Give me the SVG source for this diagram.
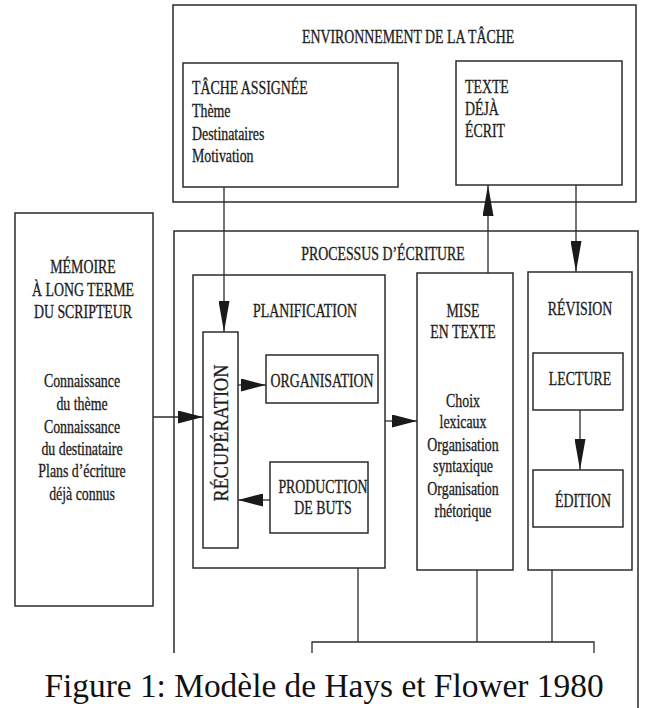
<svg xmlns="http://www.w3.org/2000/svg" width="646" height="708" viewBox="0 0 646 708">
<style>
.box{fill:none;stroke:#2b2b2b;stroke-width:1.5}
.ln{fill:none;stroke:#2b2b2b;stroke-width:1.3}
.t{font-family:"Liberation Serif","Times New Roman",serif;font-size:18px;fill:#1c1c1c;stroke:#1c1c1c;stroke-width:0.3}
.m{text-anchor:middle}
.cap{font-family:"Liberation Serif","Times New Roman",serif;font-size:33.4px;fill:#111;text-anchor:middle}
</style>
<defs>
<marker id="ah" viewBox="0 0 25 13" markerWidth="25" markerHeight="13" refX="25" refY="6.5" orient="auto" markerUnits="userSpaceOnUse">
<path d="M0,0 L25,6.5 L0,13 Z" fill="#1a1a1a"/>
</marker>
<marker id="av" viewBox="0 0 31 11" markerWidth="31" markerHeight="11" refX="31" refY="5.5" orient="auto" markerUnits="userSpaceOnUse">
<path d="M0,0 L31,5.5 L0,11 Z" fill="#1a1a1a"/>
</marker>
</defs>
<rect width="646" height="708" fill="#fff"/>

<g id="environnement">
<rect class="box" x="173" y="5" width="463" height="197"/>
<text class="t m" transform="translate(408 43) scale(0.77 1)">ENVIRONNEMENT DE LA TÂCHE</text>
</g>
<g id="tache-assignee">
<rect class="box" x="183" y="63" width="215" height="124"/>
<text class="t" transform="translate(192 94) scale(0.77 1)">TÂCHE ASSIGNÉE</text>
<text class="t" transform="translate(192 117) scale(0.77 1)">Thème</text>
<text class="t" transform="translate(192 140) scale(0.77 1)">Destinataires</text>
<text class="t" transform="translate(192 162) scale(0.77 1)">Motivation</text>
</g>
<g id="texte-deja-ecrit">
<rect class="box" x="456" y="61" width="166" height="124"/>
<text class="t" transform="translate(465 93) scale(0.77 1)">TEXTE</text>
<text class="t" transform="translate(465 115) scale(0.77 1)">DÉJÀ</text>
<text class="t" transform="translate(465 137) scale(0.77 1)">ÉCRIT</text>
</g>
<g id="memoire">
<rect class="box" x="15" y="213" width="138" height="393"/>
<text class="t m" transform="translate(83 273) scale(0.77 1)">MÉMOIRE</text>
<text class="t m" transform="translate(83 296) scale(0.77 1)">À LONG TERME</text>
<text class="t m" transform="translate(83 318) scale(0.77 1)">DU SCRIPTEUR</text>
<text class="t m" transform="translate(82 387) scale(0.77 1)">Connaissance</text>
<text class="t m" transform="translate(82 410) scale(0.77 1)">du thème</text>
<text class="t m" transform="translate(82 433) scale(0.77 1)">Connaissance</text>
<text class="t m" transform="translate(82 455) scale(0.77 1)">du destinataire</text>
<text class="t m" transform="translate(82 477) scale(0.77 1)">Plans d’écriture</text>
<text class="t m" transform="translate(82 500) scale(0.77 1)">déjà connus</text>
</g>
<g id="processus">
<path class="box" d="M174,653 V231 H638 V708"/>
<text class="t m" transform="translate(383 260) scale(0.77 1)">PROCESSUS D’ÉCRITURE</text>
</g>
<g id="planification">
<rect class="box" x="193" y="275" width="192" height="293"/>
<text class="t m" transform="translate(305 317) scale(0.77 1)">PLANIFICATION</text>
</g>
<g id="recuperation">
<rect class="box" x="203" y="332" width="35" height="216"/>
<text class="t m" style="font-size:21px" transform="translate(228 433) rotate(-90) scale(0.87 1)">RÉCUPÉRATION</text>
</g>
<g id="organisation">
<rect class="box" x="266" y="355" width="112" height="48"/>
<text class="t m" transform="translate(322 387) scale(0.77 1)">ORGANISATION</text>
</g>
<g id="production">
<rect class="box" x="270" y="462" width="98" height="71"/>
<text class="t m" transform="translate(323 493) scale(0.77 1)">PRODUCTION</text>
<text class="t m" transform="translate(323 514) scale(0.77 1)">DE BUTS</text>
</g>
<g id="mise-en-texte">
<rect class="box" x="417" y="273" width="96" height="297"/>
<text class="t m" transform="translate(463 317) scale(0.77 1)">MISE</text>
<text class="t m" transform="translate(463 338) scale(0.77 1)">EN TEXTE</text>
<text class="t m" transform="translate(463 407) scale(0.77 1)">Choix</text>
<text class="t m" transform="translate(463 428) scale(0.77 1)">lexicaux</text>
<text class="t m" transform="translate(463 451) scale(0.77 1)">Organisation</text>
<text class="t m" transform="translate(463 472) scale(0.77 1)">syntaxique</text>
<text class="t m" transform="translate(463 495) scale(0.77 1)">Organisation</text>
<text class="t m" transform="translate(463 517) scale(0.77 1)">rhétorique</text>
</g>
<g id="revision">
<rect class="box" x="528" y="272" width="104" height="298"/>
<text class="t m" transform="translate(580 315) scale(0.77 1)">RÉVISION</text>
</g>
<g id="lecture">
<rect class="box" x="533" y="353" width="90" height="57"/>
<text class="t m" transform="translate(580 385) scale(0.77 1)">LECTURE</text>
</g>
<g id="edition">
<rect class="box" x="533" y="470" width="90" height="57"/>
<text class="t m" transform="translate(583 507) scale(0.77 1)">ÉDITION</text>
</g>

<g id="connectors">
<line class="ln" x1="224" y1="187" x2="224" y2="332" marker-end="url(#av)"/>
<line class="ln" x1="153" y1="417" x2="203" y2="417" marker-end="url(#ah)"/>
<line class="ln" x1="238" y1="385" x2="266" y2="385" marker-end="url(#ah)"/>
<line class="ln" x1="270" y1="500" x2="238" y2="500" marker-end="url(#ah)"/>
<line class="ln" x1="385" y1="421" x2="417" y2="421" marker-end="url(#ah)"/>
<line class="ln" x1="488" y1="273" x2="488" y2="185" marker-end="url(#av)"/>
<line class="ln" x1="576" y1="185" x2="576" y2="272" marker-end="url(#av)"/>
<line class="ln" x1="580" y1="410" x2="580" y2="470" marker-end="url(#av)"/>
<path class="ln" d="M358,568 V642 M477,570 V642 M552,570 V642 M312,653 V642 H594 V653"/>
</g>

<text class="cap" x="324" y="697">Figure 1: Modèle de Hays et Flower 1980</text>
</svg>
